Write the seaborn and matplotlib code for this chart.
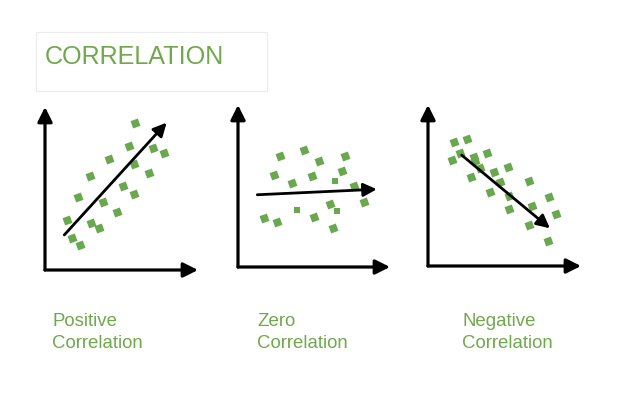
import numpy as np
import pandas as pd
import matplotlib
matplotlib.use("Agg")
import matplotlib.pyplot as plt
from matplotlib.patches import FancyArrowPatch, Rectangle
import seaborn as sns

# ── data (arbitrary 0-10 units per panel) ───────────────────
pos_x = [5.90, 5.51, 7.04, 7.76, 4.18, 5.80, 2.96, 6.80, 5.08, 2.18,
         5.84, 3.79, 4.71, 1.46, 2.99, 3.51, 1.76, 2.29]
pos_y = [9.04, 7.59, 7.48, 7.18, 6.79, 6.50, 5.77, 5.93, 5.15, 4.46,
         4.66, 4.19, 3.56, 3.07, 2.88, 2.58, 1.98, 1.53]
pos_trend = [(1.26, 2.15), (7.95, 9.04)]

zero_x = [2.78, 4.34, 7.02, 5.35, 2.39, 6.84, 4.87, 3.55, 7.65, 8.31,
          6.03, 1.73, 2.57, 5.00, 6.23]
zero_y = [6.83, 7.22, 6.87, 6.54, 5.68, 5.94, 5.64, 5.17, 5.00, 3.99,
          3.87, 3.01, 2.78, 3.07, 2.39]
zero_small_x = [6.36, 6.51, 3.88]
zero_small_y = [5.29, 3.46, 3.54]
zero_trend = [(1.27, 4.46), (9.13, 4.80)]

neg_x = [1.72, 2.57, 2.07, 1.55, 3.03, 3.07, 3.88, 3.42, 4.31, 5.25, 2.79,
         4.73, 6.62, 4.05, 5.29, 7.89, 5.31, 6.78, 8.35, 6.60, 7.86]
neg_y = [7.70, 7.91, 7.04, 6.58, 6.79, 6.54, 7.00, 6.11, 5.86, 6.13, 5.55,
         5.24, 5.26, 4.58, 4.35, 4.30, 3.56, 3.71, 3.21, 2.57, 1.55]
neg_trend = [(2.20, 6.89), (7.97, 2.34)]

labels = [("Positive", "Correlation"), ("Zero", "Correlation"),
          ("Negative", "Correlation")]
title = "CORRELATION"

# ── style ───────────────────────────────────────────────────
sns.set_theme(style="white")
plt.rcParams["font.family"] = ["Liberation Sans", "DejaVu Sans"]

GREEN = "#6aa84f"
TEXT_GREEN = "#70a84c"
W, H = 635, 393

fig = plt.figure(figsize=(6.35, 3.93), dpi=100)


def px_axes(left, top, right, bottom):
    return fig.add_axes([left / W, 1 - bottom / H,
                         (right - left) / W, (bottom - top) / H])


def draw_panel(ax, x, y, trend, small=None):
    ax.set_xlim(0, 10); ax.set_ylim(0, 10)
    ax.axis("off")
    df = pd.DataFrame({"x": x, "y": y})
    sns.scatterplot(data=df, x="x", y="y", ax=ax, marker=(4, 0, 65),
                    s=62, color=GREEN, linewidth=0, clip_on=False)
    if small is not None:
        sdf = pd.DataFrame({"x": small[0], "y": small[1]})
        sns.scatterplot(data=sdf, x="x", y="y", ax=ax, marker="s",
                        s=16, color=GREEN, linewidth=0, clip_on=False)
    # axes arrows
    for end in [(0, 1), (1, 0)]:
        ax.add_patch(FancyArrowPatch((0, 0), end, transform=ax.transAxes,
                                     arrowstyle="-|>", mutation_scale=22,
                                     lw=2.3, color="black",
                                     shrinkA=0, shrinkB=0, clip_on=False))
    # trend arrow
    ax.add_patch(FancyArrowPatch(trend[0], trend[1], arrowstyle="-|>",
                                 mutation_scale=20, lw=2.0, color="black",
                                 shrinkA=0, shrinkB=0, clip_on=False))


ax1 = px_axes(45, 107, 198, 270)
draw_panel(ax1, pos_x, pos_y, pos_trend)
ax2 = px_axes(238, 105, 390, 267)
draw_panel(ax2, zero_x, zero_y, zero_trend, (zero_small_x, zero_small_y))
ax3 = px_axes(428, 105, 581, 266)
draw_panel(ax3, neg_x, neg_y, neg_trend)

# ── title box ───────────────────────────────────────────────
fig.patches.append(Rectangle((36 / W, 1 - 91 / H), 231 / W, 59 / H,
                             transform=fig.transFigure, facecolor="white",
                             edgecolor="#ececec", linewidth=0.8))
fig.text(45 / W, 1 - 63.5 / H, title, fontsize=18.1, color=TEXT_GREEN,
         va="baseline", ha="left")

# ── captions ────────────────────────────────────────────────
for (l1, l2), xpx in zip(labels, [53, 257.5, 462.5]):
    fig.text(xpx / W, 1 - 326.5 / H, l1, fontsize=13.4, color=TEXT_GREEN,
             va="baseline", ha="left")
    fig.text((xpx - 0.8) / W, 1 - 348 / H, l2, fontsize=13.4,
             color=TEXT_GREEN, va="baseline", ha="left")

fig.savefig("out.png", dpi=100, facecolor="white")
plt.close(fig)
